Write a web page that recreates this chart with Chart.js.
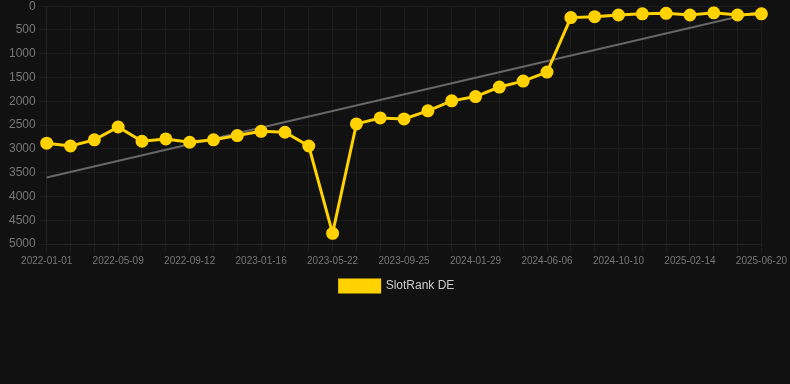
<!DOCTYPE html>
<html>
<head>
<meta charset="utf-8">
<script src="https://cdn.jsdelivr.net/npm/chart.js@4"></script>
<style>
  html, body { margin: 0; padding: 0; background: #111111; overflow: hidden; }
  #wrap { width: 790px; height: 306px; position: relative; top: -4px; }
</style>
</head>
<body>
<div id="wrap"><canvas id="rankChart"></canvas></div>
<script>
const dates = [
    '2022-01-01', '2022-02-13', '2022-03-27', '2022-05-09', '2022-06-20', '2022-08-01',
    '2022-09-12', '2022-10-24', '2022-12-05', '2023-01-16', '2023-02-27', '2023-04-10',
    '2023-05-22', '2023-07-03', '2023-08-14', '2023-09-25', '2023-11-06', '2023-12-18',
    '2024-01-29', '2024-03-12', '2024-04-24', '2024-06-06', '2024-07-18', '2024-08-29',
    '2024-10-10', '2024-11-21', '2025-01-02', '2025-02-14', '2025-03-28', '2025-05-09',
    '2025-06-20'
];
const rankDE = [
    2880, 2940, 2810, 2540, 2840, 2790, 2860, 2810, 2720, 2630, 2650, 2940,
    4775, 2475, 2350, 2370, 2200, 1990, 1900, 1700, 1575, 1385, 240, 220,
    185, 160, 150, 185, 140, 185, 160
];
// trend line: only the two ends, gap filled by spanGaps
const trendStart = 3600;
const trendEnd = 105;
const yTicks = [0, 500, 1000, 1500, 2000, 2500, 3000, 3500, 4000, 4500, 5000];

const trend = dates.map((d, i) => i === 0 ? trendStart : (i === dates.length - 1 ? trendEnd : null));

const ctx = document.getElementById('rankChart').getContext('2d');
new Chart(ctx, {
    type: 'line',
    data: {
        labels: dates,
        datasets: [{
            label: 'SlotRank DE',
            data: rankDE,
            borderColor: '#ffd200',
            backgroundColor: '#ffd200',
            borderWidth: 3,
            pointRadius: 5,
            pointHoverRadius: 5,
            tension: 0,
            order: 0
        }, {
            label: 'trend',
            data: trend,
            spanGaps: true,
            borderColor: '#666666',
            borderWidth: 2,
            pointRadius: 0,
            tension: 0,
            order: 1
        }]
    },
    options: {
        responsive: true,
        maintainAspectRatio: false,
        animation: false,
        layout: { padding: { left: 6, right: 2 } },
        plugins: {
            tooltip: { enabled: false },
            legend: {
                position: 'bottom',
                labels: {
                    color: '#cccccc',
                    font: { family: 'Liberation Sans, Arial, sans-serif', size: 12 },
                    boxWidth: 40,
                    boxHeight: 12,
                    filter: item => item.text !== 'trend'
                }
            }
        },
        scales: {
            x: {
                grid: { color: '#1c1c1c' },
                border: { color: '#242424' },
                ticks: {
                    color: '#777777',
                    maxRotation: 0,
                    autoSkip: false,
                    font: { family: 'Liberation Sans, Arial, sans-serif', size: 10 },
                    callback: (v, i) => i % 3 === 0 ? dates[i] : ''
                }
            },
            y: {
                reverse: true,
                min: yTicks[0],
                max: yTicks[yTicks.length - 1],
                grid: { color: '#1c1c1c' },
                border: { color: '#242424' },
                afterBuildTicks: axis => { axis.ticks = yTicks.map(v => ({ value: v })); },
                ticks: {
                    color: '#777777',
                    font: { family: 'Liberation Sans, Arial, sans-serif', size: 12 },
                    callback: v => String(v)
                }
            }
        }
    }
});
</script>
</body>
</html>
